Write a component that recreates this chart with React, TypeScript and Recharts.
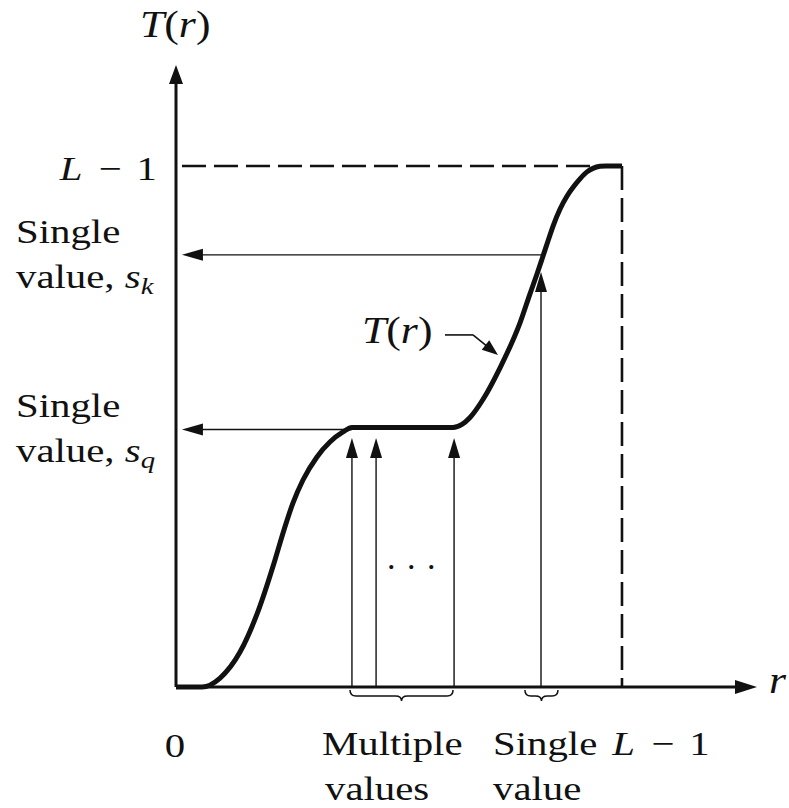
import React from "react";
import { ComposedChart, Line, XAxis, YAxis, ReferenceLine } from "recharts";

// r on the horizontal axis, T(r) on the vertical one, L - 1 = 255
const L1 = 255;
const R_MAX = 332.2; // where the r-axis arrow ends
const T_MAX = 304.4; // where the T(r)-axis arrow ends

// the transformation curve
const rValues = [
  0, 14.9, 25.2, 36.6, 46.3, 56.6, 61.2, 66.9, 72.6, 80.6, 88.0, 95.5, 100.6,
  158.4, 163.5, 168.1, 175.5, 185.2, 196.7, 202.4, 206.4, 209.3, 212.7, 215.6,
  219.6, 223.6, 227.6, 231.0, 235.0, 238.4, 242.4, 245.9, 255,
];
const tValues = [
  0, 0, 4.4, 17.1, 35.7, 62.2, 75.4, 90.1, 101.3, 112.6, 119.9, 124.8, 127,
  127, 128.5, 131.9, 140.7, 156.1, 178.2, 192.4, 202.1, 209.5, 218.3, 225.6,
  233.9, 240.3, 245.2, 248.7, 252.1, 253.8, 254.8, 255, 255,
];

// the two output levels and where their arrows stop near the T axis
const sK = 211.5;
const sQ = 126;
const leftTip = 3.4;

// input values pointing up to the curve, and where their arrows stop
const multipleR = [100.6, 114.4, 159.0];
const multipleTip = 121.9;
const singleR = 208.7;
const singleTip = 203.1;

// braces under the r axis
const multipleSpan = [99.5, 158.4];
const singleSpan = [199.5, 218.4];

// pointer from the "T(r)" label to the curve
const pointerR = [153.8, 169.8, 184.1];
const pointerT = [172.3, 172.3, 162.5];

const data = rValues.map((r, i) => ({ r, t: tValues[i] }));

const INK = "#111";
const FONT = "'Liberation Serif', 'Times New Roman', serif";

function arrow(len: number, half: number, width: number) {
  return (p: any) => {
    const { x1, y1, x2, y2 } = p;
    const dx = x2 - x1;
    const dy = y2 - y1;
    const d = Math.hypot(dx, dy) || 1;
    const ux = dx / d;
    const uy = dy / d;
    const bx = x2 - ux * len;
    const by = y2 - uy * len;
    const pts = `${x2},${y2} ${bx - uy * half},${by + ux * half} ${bx + uy * half},${by - ux * half}`;
    return (
      <g>
        <line x1={x1} y1={y1} x2={bx + ux} y2={by + uy} stroke={INK} strokeWidth={width} />
        <polygon points={pts} fill={INK} />
      </g>
    );
  };
}

const plain = (width: number, dash?: string) => (p: any) => (
  <line x1={p.x1} y1={p.y1} x2={p.x2} y2={p.y2} stroke={INK} strokeWidth={width} strokeDasharray={dash} />
);

const brace = (p: any) => {
  const xa = Math.min(p.x1, p.x2);
  const xb = Math.max(p.x1, p.x2);
  const y = p.y1;
  const m = (xa + xb) / 2;
  const top = y + 3;
  const mid = y + 9;
  const tip = y + 14;
  const r = 6;
  const d = `M${xa},${top} Q${xa},${mid} ${xa + r},${mid} L${m - r},${mid} Q${m},${mid} ${m},${tip} Q${m},${mid} ${m + r},${mid} L${xb - r},${mid} Q${xb},${mid} ${xb},${top}`;
  return <path d={d} fill="none" stroke={INK} strokeWidth={1.5} />;
};

function Txt({ x, y, size = 34, sx = 1.2, anchor = "start", children }: any) {
  return (
    <text
      transform={`translate(${x} ${y}) scale(${sx} 1)`}
      fontFamily={FONT}
      fontSize={size}
      fill={INK}
      textAnchor={anchor}
    >
      {children}
    </text>
  );
}

const It = ({ children }: any) => <tspan fontStyle="italic">{children}</tspan>;

// "L − 1" with the wider spacing of the figure
const LMinusOne = () => (
  <>
    <It>L</It>
    <tspan dx={5}> − </tspan>
    <tspan dx={4}>1</tspan>
  </>
);

export default function App() {
  return (
    <div style={{ position: "absolute", left: 0, top: 0, width: 789, height: 808, background: "#fff" }}>
      <ComposedChart
        width={789}
        height={808}
        data={data}
        margin={{ top: 65, right: 32, bottom: 121, left: 176 }}
      >
        <XAxis type="number" dataKey="r" domain={[0, R_MAX]} hide />
        <YAxis type="number" domain={[0, T_MAX]} hide />

        {/* dashed box at L - 1 */}
        <ReferenceLine segment={[{ x: L1, y: L1 }, { x: 0, y: L1 }]} shape={plain(2.6, "24 8")} />
        <ReferenceLine segment={[{ x: L1, y: L1 }, { x: L1, y: 0 }]} shape={plain(2.6, "24 8")} />

        {/* output levels */}
        <ReferenceLine segment={[{ x: singleR, y: sK }, { x: leftTip, y: sK }]} shape={arrow(21, 6, 1.4)} />
        <ReferenceLine segment={[{ x: multipleR[0], y: sQ }, { x: leftTip, y: sQ }]} shape={arrow(21, 6, 1.4)} />

        {/* inputs */}
        {multipleR.map((r) => (
          <ReferenceLine key={r} segment={[{ x: r, y: 0 }, { x: r, y: multipleTip }]} shape={arrow(20, 6, 1.4)} />
        ))}
        <ReferenceLine segment={[{ x: singleR, y: 0 }, { x: singleR, y: singleTip }]} shape={arrow(20, 6, 1.4)} />

        {/* braces */}
        <ReferenceLine segment={[{ x: multipleSpan[0], y: 0 }, { x: multipleSpan[1], y: 0 }]} shape={brace} />
        <ReferenceLine segment={[{ x: singleSpan[0], y: 0 }, { x: singleSpan[1], y: 0 }]} shape={brace} />

        {/* label pointer */}
        <ReferenceLine segment={[{ x: pointerR[0], y: pointerT[0] }, { x: pointerR[1], y: pointerT[1] }]} shape={plain(1.6)} />
        <ReferenceLine segment={[{ x: pointerR[1], y: pointerT[1] }, { x: pointerR[2], y: pointerT[2] }]} shape={arrow(16, 6, 1.6)} />

        {/* axes */}
        <ReferenceLine segment={[{ x: 0, y: 0 }, { x: R_MAX, y: 0 }]} shape={arrow(22, 7, 3)} />
        <ReferenceLine segment={[{ x: 0, y: 0 }, { x: 0, y: T_MAX }]} shape={arrow(19, 7, 3)} />

        <Line
          type="monotone"
          dataKey="t"
          stroke={INK}
          strokeWidth={5}
          dot={false}
          activeDot={false}
          isAnimationActive={false}
        />

        <Txt x={140} y={37} size={38} sx={1.15}>
          <It>T</It>(<It>r</It>)
        </Txt>
        <Txt x={362} y={343} size={38} sx={1.15}>
          <It>T</It>(<It>r</It>)
        </Txt>
        <Txt x={769} y={693} size={38} sx={1.15}>
          <It>r</It>
        </Txt>

        <Txt x={157} y={180} anchor="end">
          <LMinusOne />
        </Txt>

        <Txt x={16} y={243}>Single</Txt>
        <Txt x={16} y={288}>
          value, <It>s</It>
          <tspan fontStyle="italic" fontSize={24} dy={6}>k</tspan>
        </Txt>
        <Txt x={16} y={417}>Single</Txt>
        <Txt x={16} y={462}>
          value, <It>s</It>
          <tspan fontStyle="italic" fontSize={24} dy={6}>q</tspan>
        </Txt>

        <Txt x={412} y={569} anchor="middle" sx={1}>
          <tspan letterSpacing={1.5}>. . .</tspan>
        </Txt>

        <Txt x={175} y={757} anchor="middle">0</Txt>
        <Txt x={322} y={755}>Multiple</Txt>
        <Txt x={325} y={800}>values</Txt>
        <Txt x={493} y={755}>
          Single<tspan dx={4}> </tspan>
          <LMinusOne />
        </Txt>
        <Txt x={493} y={800}>value</Txt>
      </ComposedChart>
    </div>
  );
}
